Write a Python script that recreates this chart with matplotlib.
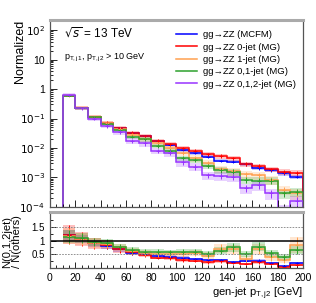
import matplotlib
matplotlib.use("Agg")
import matplotlib.pyplot as plt
import numpy as np
from matplotlib.ticker import MultipleLocator, LogLocator, FixedLocator, NullFormatter

plt.rcParams['font.family'] = ['Liberation Sans', 'DejaVu Sans']

# binning (gen-jet pT,j2)
edges = np.arange(10, 201, 10)

# normalized distributions, log10 of bin content
logvals = {
    "MCFM":    [-0.22, -0.64, -0.95, -1.15, -1.32, -1.49, -1.59, -1.76, -1.89, -2.07, -2.18, -2.29, -2.43, -2.46, -2.55, -2.69, -2.75, -2.86, -2.97],
    "0-jet":   [-0.22, -0.64, -0.95, -1.14, -1.32, -1.48, -1.59, -1.75, -1.88, -2.01, -2.09, -2.21, -2.27, -2.35, -2.54, -2.61, -2.72, -2.80, -2.84],
    "1-jet":   [-0.24, -0.63, -0.94, -1.15, -1.35, -1.55, -1.71, -1.84, -2.01, -2.16, -2.35, -2.52, -2.72, -2.78, -2.89, -2.92, -3.08, -3.42, -3.54],
    "0,1-jet": [-0.22, -0.65, -0.96, -1.20, -1.39, -1.62, -1.71, -1.93, -2.09, -2.35, -2.41, -2.61, -2.75, -2.80, -3.08, -3.11, -3.11, -3.54, -3.48],
    "0,1,2-jet": [-0.20, -0.66, -1.00, -1.25, -1.46, -1.75, -1.84, -2.09, -2.16, -2.48, -2.63, -2.92, -2.95, -2.97, -3.37, -3.25, -3.54, -4.10, -3.79],
}
# relative uncertainty (band half width)
relerr = {
    "MCFM":    [0.04, 0.05, 0.06, 0.07, 0.08, 0.09, 0.10, 0.10, 0.11, 0.12, 0.12, 0.13, 0.13, 0.14, 0.14, 0.15, 0.15, 0.16, 0.16],
    "0-jet":   [0.10, 0.12, 0.13, 0.14, 0.15, 0.16, 0.16, 0.17, 0.17, 0.18, 0.18, 0.18, 0.19, 0.19, 0.20, 0.20, 0.20, 0.21, 0.21],
    "1-jet":   [0.10, 0.12, 0.14, 0.15, 0.17, 0.18, 0.20, 0.21, 0.22, 0.24, 0.25, 0.27, 0.28, 0.30, 0.30, 0.32, 0.33, 0.35, 0.40],
    "0,1-jet": [0.08, 0.10, 0.12, 0.13, 0.14, 0.16, 0.17, 0.18, 0.20, 0.22, 0.23, 0.24, 0.26, 0.27, 0.29, 0.30, 0.31, 0.33, 0.35],
    "0,1,2-jet": [0.12, 0.14, 0.16, 0.18, 0.19, 0.21, 0.23, 0.25, 0.27, 0.29, 0.30, 0.32, 0.34, 0.35, 0.37, 0.38, 0.40, 0.45, 0.45],
}

# ratio N(0,1,2jet)/N(others)
ratio = {
    "MCFM":    [1.20, 1.05, 0.90, 0.82, 0.69, 0.56, 0.50, 0.42, 0.40, 0.38, 0.33, 0.29, 0.29, 0.22, 0.26, 0.26, 0.18, 0.05, 0.17],
    "0-jet":   [1.22, 1.06, 0.91, 0.85, 0.69, 0.57, 0.47, 0.38, 0.36, 0.29, 0.26, 0.20, 0.24, 0.17, 0.15, 0.20, 0.14, 0.02, 0.12],
    "1-jet":   [1.18, 1.05, 0.92, 0.88, 0.76, 0.62, 0.55, 0.50, 0.50, 0.50, 0.55, 0.45, 0.70, 0.68, 0.33, 0.68, 0.40, 0.30, 0.85],
    "0,1-jet": [1.15, 1.10, 0.95, 0.93, 0.77, 0.66, 0.60, 0.60, 0.57, 0.60, 0.60, 0.51, 0.63, 0.75, 0.51, 0.78, 0.53, 0.41, 0.65],
}
ratio_err = {
    "MCFM":    [0.20, 0.15, 0.14, 0.12, 0.10, 0.08, 0.07, 0.06, 0.06, 0.05, 0.05, 0.05, 0.05, 0.04, 0.05, 0.05, 0.04, 0.03, 0.04],
    "0-jet":   [0.36, 0.25, 0.20, 0.16, 0.13, 0.10, 0.08, 0.07, 0.07, 0.06, 0.06, 0.05, 0.05, 0.04, 0.04, 0.05, 0.04, 0.02, 0.04],
    "1-jet":   [0.30, 0.22, 0.18, 0.15, 0.13, 0.11, 0.10, 0.10, 0.10, 0.11, 0.12, 0.12, 0.17, 0.17, 0.10, 0.18, 0.13, 0.12, 0.30],
    "0,1-jet": [0.25, 0.18, 0.15, 0.13, 0.12, 0.10, 0.10, 0.10, 0.10, 0.10, 0.10, 0.10, 0.13, 0.15, 0.11, 0.16, 0.12, 0.11, 0.15],
}

labels = {
    "MCFM": "gg\u2192ZZ (MCFM)",
    "0-jet": "gg\u2192ZZ 0-jet (MG)",
    "1-jet": "gg\u2192ZZ 1-jet (MG)",
    "0,1-jet": "gg\u2192ZZ 0,1-jet (MG)",
    "0,1,2-jet": "gg\u2192ZZ 0,1,2-jet (MG)",
}
colors = {
    "MCFM": "#0000ff",
    "0-jet": "#ff0000",
    "1-jet": "#ffa050",
    "0,1-jet": "#2ca02c",
    "0,1,2-jet": "#9933ff",
}

centers = 0.5 * (edges[:-1] + edges[1:])

fig = plt.figure(figsize=(3.16, 3.03), dpi=100)
ax = fig.add_axes([0.158, 0.317, 0.801, 0.617])
rax = fig.add_axes([0.158, 0.116, 0.801, 0.184])

# main panel
for key in logvals:
    v = 10 ** np.array(logvals[key])
    e = v * np.array(relerr[key])
    c = colors[key]
    ax.stairs(v + e, edges, baseline=np.clip(v - e, 1e-6, None), fill=True,
              color=c, alpha=0.22, lw=0)
for key in logvals:
    v = 10 ** np.array(logvals[key])
    e = v * np.array(relerr[key]) * 0.7
    c = colors[key]
    ax.stairs(v, edges, baseline=1e-6, color=c, lw=1.1, label=labels[key])
    ax.errorbar(centers, v, yerr=e, fmt='none', ecolor=c, elinewidth=0.7)
    ax.plot(centers, v, ls='none', marker='_', ms=2.5, color=c, mew=0.7)

ax.set_yscale('log')
ax.set_xlim(0, 200)
ax.set_ylim(1e-4, 2.2e2)
ax.set_ylabel("Normalized", fontsize=9, loc='top')
ax.yaxis.set_label_coords(-0.095, 1.0)


def ylab(val, pos):
    if abs(val - 1) < 1e-9:
        return "1"
    if abs(val - 10) < 1e-9:
        return "10"
    return r"$10^{%d}$" % round(np.log10(val))


ax.yaxis.set_major_locator(LogLocator(base=10, numticks=10))
ax.yaxis.set_major_formatter(plt.FuncFormatter(ylab))
ax.yaxis.set_minor_locator(LogLocator(base=10, subs=np.arange(2, 10), numticks=20))
ax.yaxis.set_minor_formatter(NullFormatter())
ax.xaxis.set_major_locator(MultipleLocator(20))
ax.xaxis.set_minor_locator(MultipleLocator(5))
ax.set_xticklabels([])
ax.tick_params(which='both', direction='in', labelsize=7.5, top=False, right=False, width=0.6)
ax.tick_params(which='major', length=5)
ax.tick_params(which='minor', length=2.5)

leg = ax.legend(loc='upper right', bbox_to_anchor=(0.995, 0.975), frameon=False, fontsize=6.8,
                handlelength=2.3, handletextpad=0.6, labelspacing=0.35, borderaxespad=0.2)

ax.text(0.055, 0.905, r"$\sqrt{s}$ = 13 TeV", transform=ax.transAxes, fontsize=8.5)
ax.text(0.055, 0.79, r"p$_{\mathregular{T,j1}}$, p$_{\mathregular{T,j2}}$ > 10 GeV",
        transform=ax.transAxes, fontsize=6.5)

# ratio panel
for key in ratio:
    r = np.array(ratio[key])
    re = np.array(ratio_err[key])
    c = colors[key]
    rax.stairs(r + re, edges, baseline=r - re, fill=True, color=c, alpha=0.25, lw=0)
for key in ratio:
    r = np.array(ratio[key])
    re = np.array(ratio_err[key])
    c = colors[key]
    rax.stairs(r, edges, baseline=None, color=c, lw=1.1)
    rax.errorbar(centers, r, yerr=re, fmt='none', ecolor=c, elinewidth=0.7)
    rax.plot(centers, r, ls='none', marker='_', ms=2.5, color=c, mew=0.7)

rax.axhline(1.0, color='black', lw=1.1)
rax.axhline(0.5, color='gray', lw=0.6, ls=(0, (2, 1.5)))
rax.axhline(1.5, color='gray', lw=0.6, ls=(0, (2, 1.5)))
rax.set_xlim(0, 200)
rax.set_ylim(0, 2.05)
rax.yaxis.set_major_locator(FixedLocator([0.5, 1.0, 1.5]))
rax.yaxis.set_major_formatter(plt.FuncFormatter(lambda v, p: "%g" % v))
rax.yaxis.set_minor_locator(MultipleLocator(0.25))
rax.xaxis.set_major_locator(MultipleLocator(20))
rax.xaxis.set_minor_locator(MultipleLocator(5))
rax.tick_params(which='both', direction='in', labelsize=7.5, top=False, right=False, width=0.6)
rax.tick_params(axis='y', labelsize=7)
rax.tick_params(which='major', length=4)
rax.tick_params(which='minor', length=2)
rax.set_ylabel("N(0,1,2jet)\n/ N(others)", fontsize=8, linespacing=0.95)
rax.yaxis.set_label_coords(-0.11, 0.47)
rax.set_xlabel(r"gen-jet p$_{\mathregular{T,j2}}$ [GeV]", fontsize=8, loc='right', labelpad=2)

for a in (ax, rax):
    for s in a.spines.values():
        s.set_color('#555555')
        s.set_linewidth(0.9)
    a.spines['top'].set_linewidth(2.2)
    a.spines['top'].set_color('#aaaaaa')

fig.savefig("out.png", dpi=100)
